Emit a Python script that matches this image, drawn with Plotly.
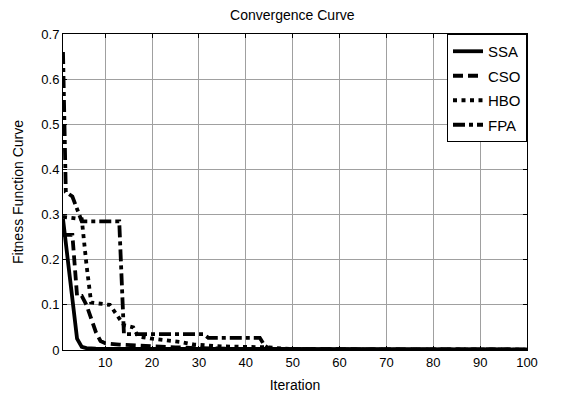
import plotly.graph_objects as go

# Data (iteration, fitness)
ssa_iter = [1, 2, 3, 4, 5, 6, 8, 12, 20, 30, 50, 100]
ssa_val = [0.29, 0.2, 0.11, 0.025, 0.007, 0.004, 0.003, 0.003, 0.002, 0.002, 0.001, 0.001]

cso_iter = [1, 3, 4, 5, 6, 7, 8, 9, 10, 13, 16, 20, 25, 30, 40, 100]
cso_val = [0.255, 0.255, 0.12, 0.12, 0.1, 0.07, 0.04, 0.02, 0.015, 0.012, 0.01, 0.008, 0.006, 0.004, 0.002, 0.001]

hbo_iter = [1, 5, 6, 7, 11, 12, 13, 14, 16, 17, 20, 26, 29, 35, 45, 48, 55, 100]
hbo_val = [0.295, 0.29, 0.19, 0.105, 0.1, 0.085, 0.07, 0.055, 0.05, 0.03, 0.025, 0.018, 0.012, 0.008, 0.006, 0.003, 0.001, 0.001]

fpa_iter = [1, 1.6, 3, 4, 5, 13, 14, 31, 32, 43, 44, 45, 47, 100]
fpa_val = [0.66, 0.35, 0.34, 0.31, 0.285, 0.285, 0.035, 0.035, 0.027, 0.027, 0.01, 0.003, 0.001, 0.001]

x_ticks = [10, 20, 30, 40, 50, 60, 70, 80, 90, 100]
y_ticks = [0, 0.1, 0.2, 0.3, 0.4, 0.5, 0.6, 0.7]
y_tick_text = ["0", "0.1", "0.2", "0.3", "0.4", "0.5", "0.6", "0.7"]

FONT = "Liberation Sans Narrow, Arial, Liberation Sans, sans-serif"
LW = 3.8

series = [
    ("SSA", ssa_iter, ssa_val, "solid"),
    ("CSO", cso_iter, cso_val, "10px,5px"),
    ("HBO", hbo_iter, hbo_val, "4px,4.5px"),
    ("FPA", fpa_iter, fpa_val, "12px,4px,4px,4px"),
]

fig = go.Figure()
for i, (name, xs, ys, dash) in enumerate(series):
    fig.add_trace(go.Scatter(
        x=xs, y=ys, mode="lines", name=name, legendgroup=name,
        line=dict(color="black", width=LW, dash=dash),
    ))

axis_common = dict(
    showline=True, linecolor="black", linewidth=1, mirror="ticks",
    ticks="inside", ticklen=4, tickcolor="black",
    showgrid=True, gridcolor="#a0a0a0", gridwidth=1,
    zeroline=False, automargin=False,
    tickfont=dict(family=FONT, size=13, color="black"),
)

fig.update_layout(
    width=571, height=396,
    margin=dict(l=63, r=44, t=34, b=46),
    paper_bgcolor="white", plot_bgcolor="white",
    title=dict(text="Convergence Curve", x=0.512, xanchor="center", y=0.962, yanchor="middle",
               font=dict(family=FONT, size=14, color="black")),
    xaxis=dict(range=[1, 100], tickvals=x_ticks,
               title=dict(text="Iteration", font=dict(family=FONT, size=14, color="black"), standoff=11),
               **axis_common),
    yaxis=dict(range=[0, 0.7], tickvals=y_ticks, ticktext=y_tick_text,
               title=dict(text="Fitness Function Curve", font=dict(family=FONT, size=14, color="black"), standoff=14),
               **axis_common),
    legend=dict(x=1, xanchor="right", y=1, yanchor="top",
                bgcolor="white", bordercolor="black", borderwidth=1,
                font=dict(family=FONT, size=15, color="black"),
                tracegroupgap=2, traceorder="grouped"),
    showlegend=True,
)

fig.write_html("out.html")
